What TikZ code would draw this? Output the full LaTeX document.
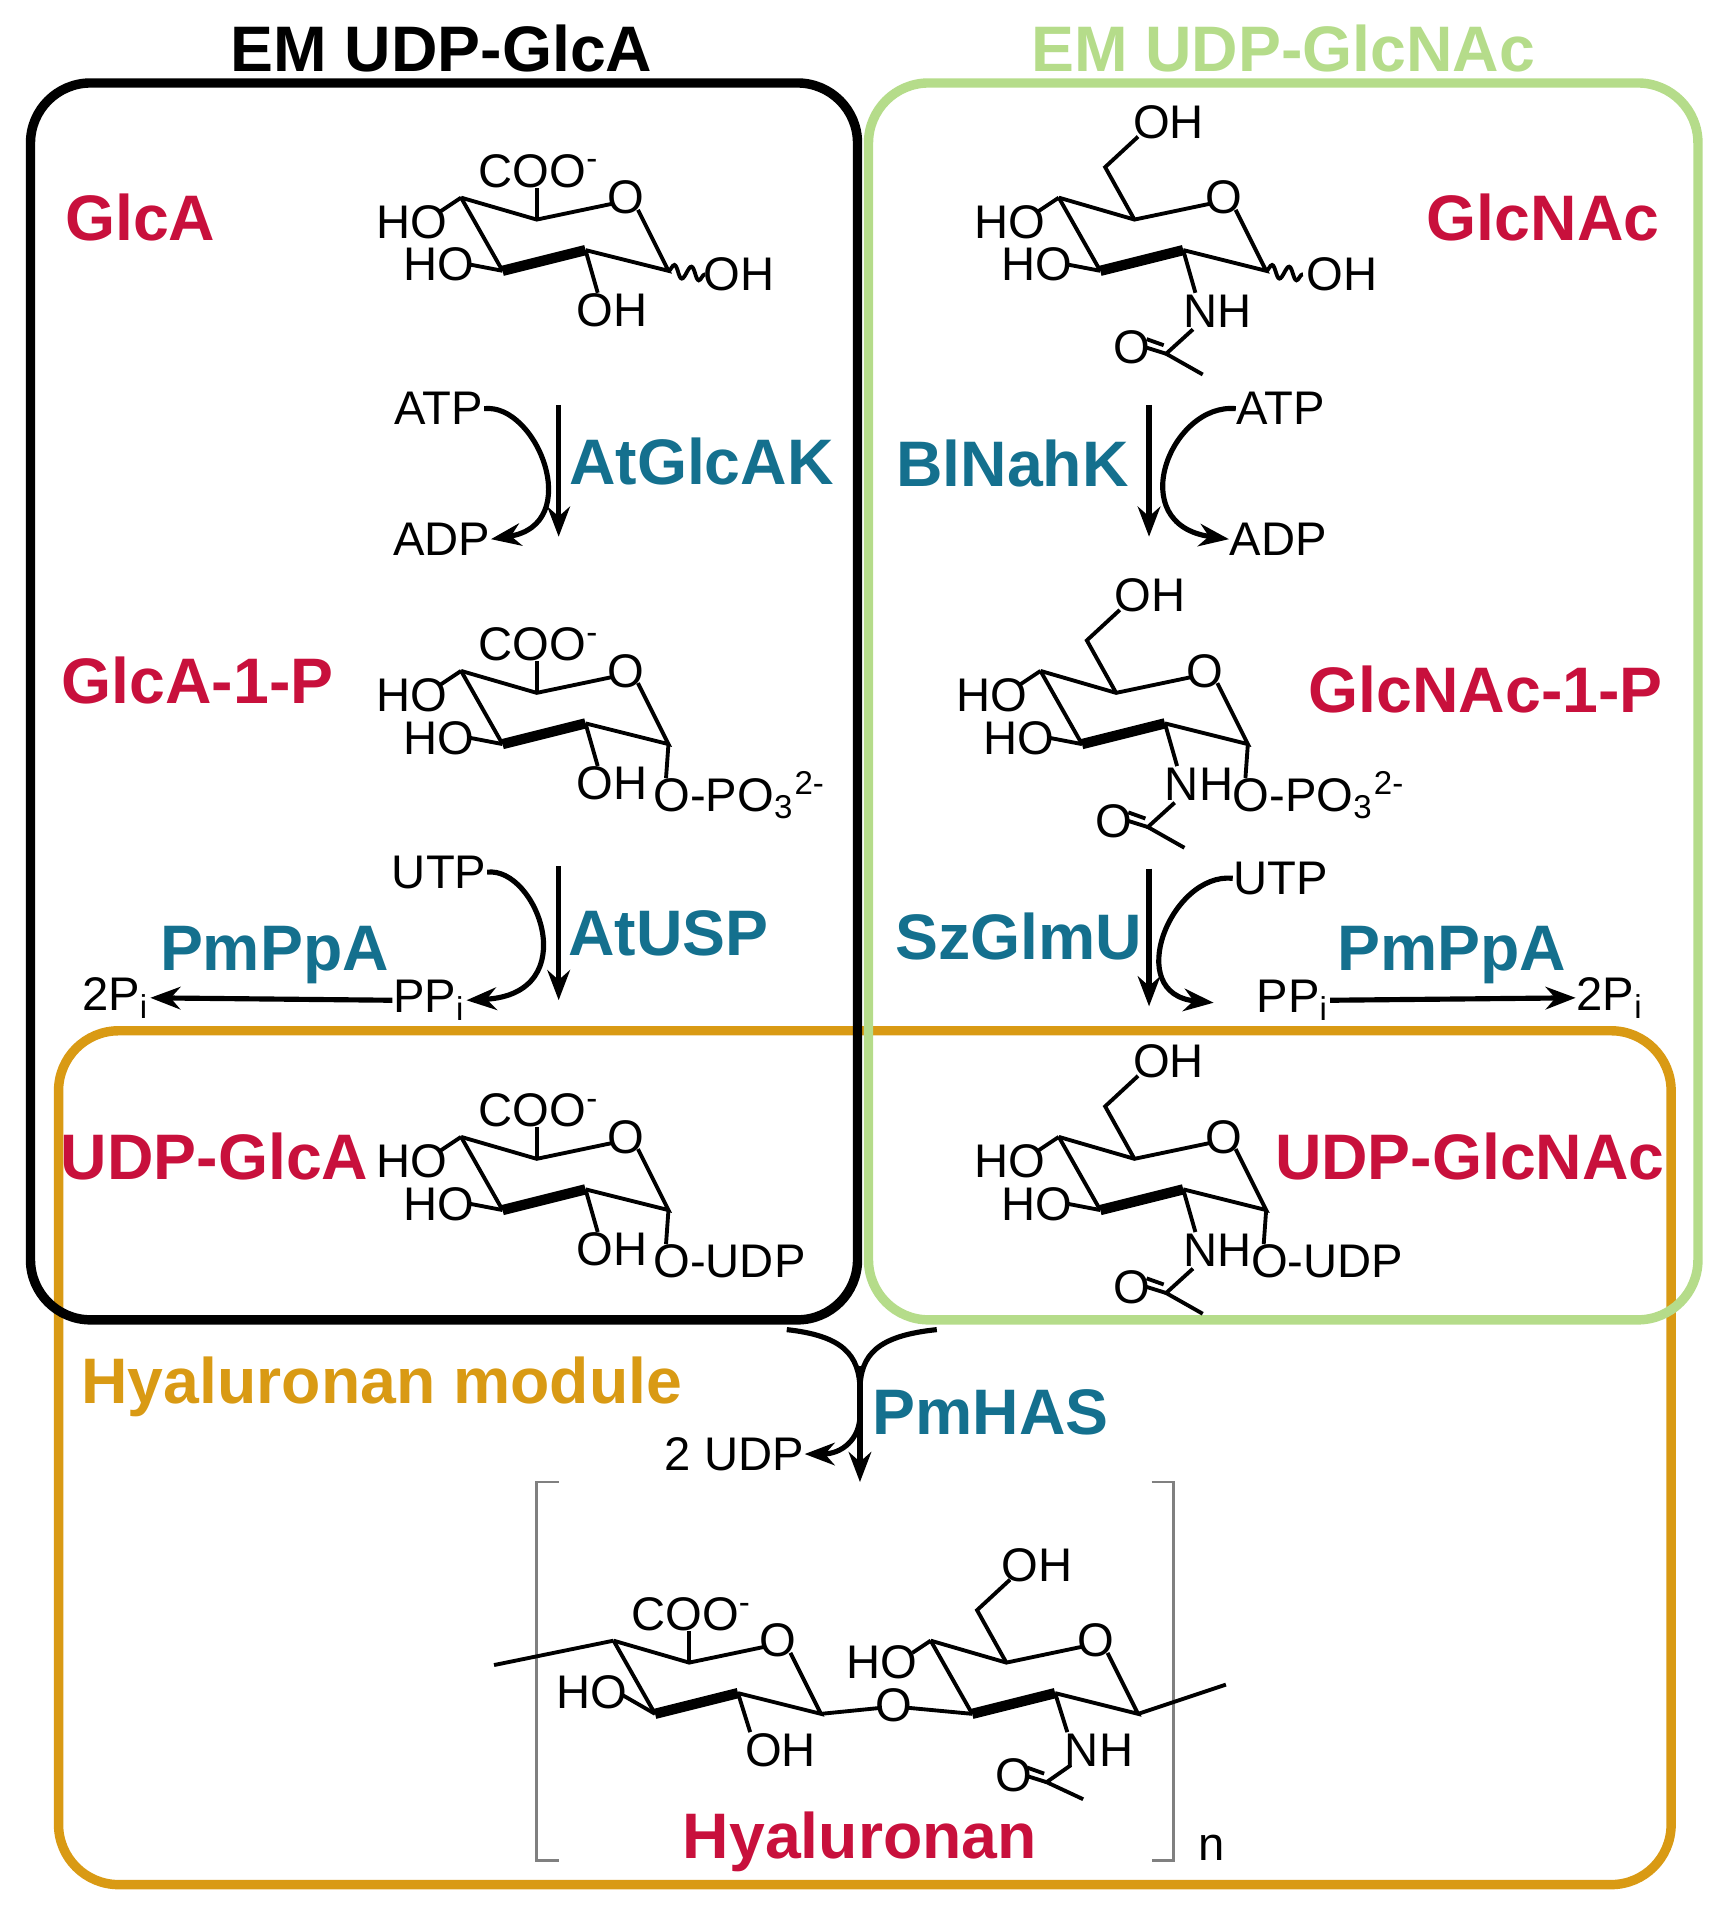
\documentclass[tikz,border=0pt]{standalone}
\usepackage{fontspec}
\setmainfont{Liberation Sans}
\usetikzlibrary{arrows.meta,decorations.pathmorphing}
\definecolor{red1}{HTML}{C8103C}
\definecolor{blu}{HTML}{14708E}
\definecolor{grn}{HTML}{B5DC8A}
\definecolor{org}{HTML}{D99A14}
\tikzset{
 ln/.style={line width=0.9pt},
 bd/.style={line width=2.4pt},
 sub/.style={inner sep=0pt,font=\fontsize{11}{12}\selectfont},
 lab/.style={inner sep=0pt,font=\fontsize{15}{17}\selectfont\bfseries},
 mol/.style={lab,text=red1},
 enz/.style={lab,text=blu},
 rx/.style={line width=1.2pt,-{Stealth[length=7pt]}},
 box/.style={rounded corners=14pt,line width=2.2pt},
 wav/.style={ln,decorate,decoration={snake,amplitude=1.5pt,segment length=4pt}}
}
\newcommand{\myring}{%
 \draw[ln] (0,0)--(62,18)--(124,5);
 \node[sub] (o) at (135,0){O};
 \draw[ln] (145,10)--(170,60)--(102,43);
 \draw[bd] (102,43)--(34,60);
 \draw[ln] (34,60)--(0,0);}
\newcommand{\glcasubs}{%
 \draw[ln] (0,0)--(-18,12); \node[sub] at (-40,20){HO};
 \draw[ln] (34,60)--(8,55); \node[sub] at (-18,55){HO};
 \draw[ln] (62,18)--(62,-8); \node[sub] at (64,-22){COO\textsuperscript{-}};
 \draw[ln] (102,43)--(112,78); \node[sub] at (124,92){OH};}
\newcommand{\nacsubs}{%
 \draw[ln] (0,0)--(-18,12); \node[sub] at (-40,20){HO};
 \draw[ln] (34,60)--(8,55); \node[sub] at (-18,55){HO};
 \draw[ln] (62,18)--(38,-25)--(65,-50); \node[sub] at (90,-62){OH};
 \draw[ln] (102,43)--(112,78); \node[sub] at (130,93){NH};
 \draw[ln] (110,108)--(88,128)--(118,145);
 \draw[ln] (88,128)--(72,123); \draw[ln] (86,121)--(72,116);
 \node[sub] at (60,123){O};}
\newcommand{\cone}[1]{%
 \draw[ln] (170,60)--(168,88); \node[sub,anchor=west] at (157,102){#1};}
\begin{document}
\begin{tikzpicture}[x=0.01cm,y=-0.01cm]
\useasboundingbox (0,0) rectangle (1412,1565);
% boxes
\draw[box,org] (48,845) rectangle (1370,1545);
\draw[box,black] (25,68) rectangle (703,1082);
\draw[box,grn] (712,68) rectangle (1392,1082);
\node[lab] (t1) at (362,40){EM UDP-GlcA};
\node[lab,text=grn] (t2) at (1052,40){EM UDP-GlcNAc};
\node[lab,text=org] (hm) at (313,1137){Hyaluronan module};
% molecule labels
\node[mol] (m1) at (115,178){GlcA};
\node[mol] (m2) at (162,558){GlcA-1-P};
\node[mol] (m3) at (176,948){UDP-GlcA};
\node[mol] (m4) at (1265,178){GlcNAc};
\node[mol] (m5) at (1218,565){GlcNAc-1-P};
\node[mol] (m6) at (1205,948){UDP-GlcNAc};
\node[mol] (m7) at (705,1510){Hyaluronan};
% enzymes
\node[enz] (e1) at (575,378){AtGlcAK};
\node[enz] (e2) at (548,765){AtUSP};
\node[enz] (e3) at (225,783){PmPpA};
\node[enz] (e4) at (830,380){BlNahK};
\node[enz] (e5) at (835,768){SzGlmU};
\node[enz] (e6) at (1190,783){PmPpA};
\node[enz] (e7) at (812,1158){PmHAS};
% GlcA
\begin{scope}[shift={(378,162)}]\myring\glcasubs
 \draw[wav] (170,60)--(200,63); \node[sub] at (228,63){OH};\end{scope}
\begin{scope}[shift={(378,550)}]\myring\glcasubs\cone{O-PO\textsubscript{3}\textsuperscript{2-}}\end{scope}
\begin{scope}[shift={(378,932)}]\myring\glcasubs\cone{O-UDP}\end{scope}
% GlcNAc
\begin{scope}[shift={(868,162)}]\myring\nacsubs
 \draw[wav] (170,60)--(200,63); \node[sub] at (232,63){OH};\end{scope}
\begin{scope}[shift={(853,550)}]\myring\nacsubs\cone{O-PO\textsubscript{3}\textsuperscript{2-}}\end{scope}
\begin{scope}[shift={(868,932)}]\myring\nacsubs\cone{O-UDP}\end{scope}
% left reactions
\node[sub] (atp1) at (360,335){ATP};
\node[sub] (adp1) at (362,442){ADP};
\coordinate (a1) at (458,332); \coordinate (a1b) at (458,440);
\draw[rx] (a1)--(a1b);
\draw[rx] (atp1.east)..controls (440,330) and (480,430)..(adp1.east);
\node[sub] (utp1) at (360,715){UTP};
\node[sub] (ppi1) at (352,820){PP\textsubscript{i}};
\coordinate (a2) at (458,710); \coordinate (a2b) at (458,820);
\draw[rx] (a2)--(a2b);
\draw[rx] (utp1.east)..controls (440,710) and (480,815)..(ppi1.east);
\node[sub] (pi1) at (95,818){2P\textsubscript{i}};
\draw[rx] (ppi1.west)--(pi1.east);
% right reactions
\node[sub] (atp2) at (1050,335){ATP};
\node[sub] (adp2) at (1048,442){ADP};
\coordinate (b1) at (942,332); \coordinate (b1b) at (942,440);
\draw[rx] (b1)--(b1b);
\draw[rx] (atp2.west)..controls (960,330) and (920,430)..(adp2.west);
\node[sub] (utp2) at (1050,720){UTP};
\node[sub] (ppi2) at (1060,820){PP\textsubscript{i}};
\coordinate (b2) at (942,712); \coordinate (b2b) at (942,825);
\draw[rx] (b2)--(b2b);
\coordinate (b2e) at (995,822);
\draw[rx] (utp2.west)..controls (960,715) and (920,815)..(b2e);
\node[sub] (pi2) at (1320,818){2P\textsubscript{i}};
\draw[rx] (ppi2.east)--(pi2.west);
% PmHAS
\coordinate (h0) at (705,1120); \coordinate (h1) at (705,1215);
\coordinate (hl) at (645,1090); \coordinate (hr) at (768,1090);
\draw[ln,line width=1.2pt] (hl)..controls (690,1095) and (705,1110)..(705,1140);
\draw[ln,line width=1.2pt] (hr)..controls (720,1095) and (705,1110)..(705,1140);
\draw[rx] (h0)--(h1);
\node[sub] (udp) at (602,1192){2 UDP};
\draw[rx] (705,1160)..controls (705,1180) and (690,1192)..(udp.east);
% polymer brackets
\draw[line width=0.6pt,gray] (458,1215)--(440,1215)--(440,1525)--(458,1525);
\draw[line width=0.6pt,gray] (944,1215)--(962,1215)--(962,1525)--(944,1525);
\node[sub] (nn) at (993,1515){n};
% hyaluronan
\begin{scope}[shift={(503,1345)}]
 \myring
 \draw[ln] (0,0)--(-98,20);
 \draw[ln] (34,60)--(8,45); \node[sub] at (-18,42){HO};
 \draw[ln] (62,18)--(62,-8); \node[sub] at (64,-22){COO\textsuperscript{-}};
 \draw[ln] (102,43)--(112,75); \node[sub] at (137,90){OH};
 \draw[ln] (170,60)--(220,55); \node[sub] at (230,53){O};
 \draw[ln] (241,55)--(294,60);
\end{scope}
\begin{scope}[shift={(763,1345)}]
 \myring
 \draw[ln] (0,0)--(-15,10); \node[sub] at (-40,18){HO};
 \draw[ln] (62,18)--(38,-25)--(65,-50); \node[sub] at (87,-62){OH};
 \draw[ln] (102,43)--(112,75); \node[sub] at (138,90){NH};
 \draw[ln] (115,102)--(95,116)--(125,130);
 \draw[ln] (95,116)--(79,111); \draw[ln] (93,109)--(79,104);
 \node[sub] at (68,110){O};
 \draw[ln] (170,60)--(242,36);
\end{scope}
\end{tikzpicture}
\end{document}
